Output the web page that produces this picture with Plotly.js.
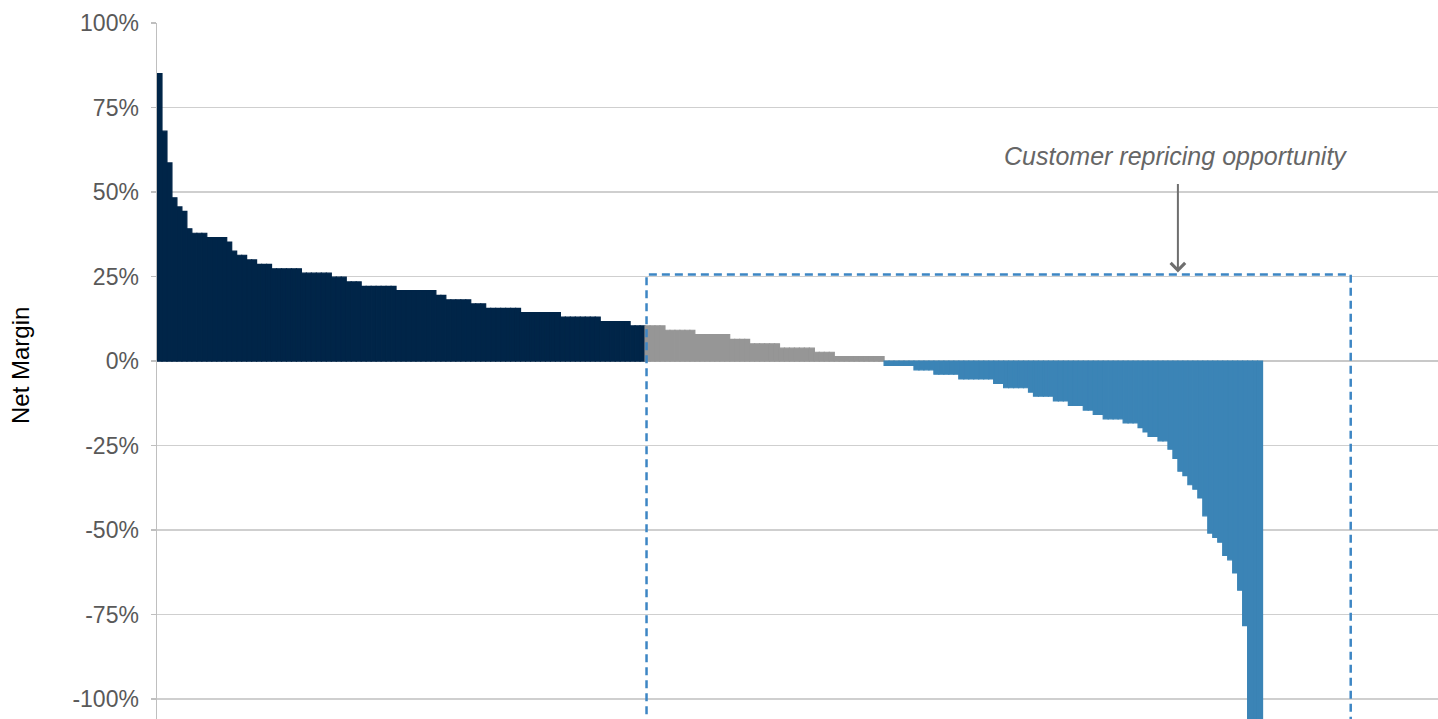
<!DOCTYPE html>
<html>
<head>
<meta charset="utf-8">
<script src="https://cdn.plot.ly/plotly-3.0.1.min.js"></script>
<style>
  html, body { margin: 0; padding: 0; background: #fff; }
  #chart { width: 1438px; height: 719px; }
</style>
</head>
<body>
<div id="chart"></div>
<script>
// Net margin levels (%) and number of customers at each level, sorted high to low
const aboveMargins = [85, 68, 58.6, 48.3, 45.6, 44.3, 39.1, 37.8, 36.5, 35.2, 32.5, 31.3, 29.9, 28.6, 27.3, 26.0, 24.8, 23.4, 22.1, 20.8, 19.4, 18.1, 16.9, 15.6, 14.3, 13.0, 11.7, 10.4];
const aboveCounts  = [1, 1, 1, 1, 1, 1, 1, 3, 4, 1, 1, 2, 2, 3, 6, 6, 3, 3, 7, 8, 2, 5, 3, 7, 8, 8, 6, 3];

const lowMargins = [10.4, 9.1, 7.8, 6.4, 5.1, 3.8, 2.6, 1.3];
const lowCounts  = [4, 6, 7, 4, 6, 7, 4, 10];

const negMargins = [-1.3, -2.6, -3.9, -5.3, -6.6, -7.9, -9.2, -10.4, -11.8, -13.1, -14.5, -15.8, -17.1, -18.3, -19.7, -21.0, -22.3, -23.6,
                    -26.1, -28.8, -32.6, -33.9, -36.6, -37.9, -40.5, -45.8, -50.9, -52.2, -53.6, -57.5, -58.8, -62.7, -67.8, -78.3,
                    -115, -130, -150];
const negCounts  = [6, 4, 5, 7, 2, 5, 1, 4, 3, 3, 2, 2, 4, 3, 1, 1, 2, 2,
                    1, 1, 1, 1, 1, 1, 1, 1, 1, 1, 1, 1, 1, 1, 1, 1,
                    1, 1, 1];

const yTickVals  = [-100, -75, -50, -25, 0, 25, 50, 75, 100];
const yTickTexts = ['-100%', '-75%', '-50%', '-25%', '0%', '25%', '50%', '75%', '100%'];

const annotationText = 'Customer repricing opportunity';
const yTitle = 'Net Margin';

// expand levels into one bar per customer
let cursor = 0;
function expand(margins, counts) {
  const xs = [], ys = [];
  margins.forEach((m, i) => {
    for (let k = 0; k < counts[i]; k++) { xs.push(cursor + 0.5); ys.push(m); cursor++; }
  });
  return {xs, ys};
}
const above = expand(aboveMargins, aboveCounts);
const boxStart = cursor;
const low = expand(lowMargins, lowCounts);
const neg = expand(negMargins, negCounts);

const NAVY = '#002548', GREY = '#969696', BLUE = '#3b84b6';
function barTrace(d, color) {
  return {
    type: 'bar', x: d.xs, y: d.ys, width: 1,
    marker: {color: color, line: {color: color, width: 1.2}},
    hoverinfo: 'skip', showlegend: false
  };
}

const unitPx = 4.98;
const plotW = 1438 - 157;
const xMax = plotW / unitPx;

const layout = {
  width: 1438, height: 719,
  margin: {l: 157, r: 0, t: 23, b: 0},
  paper_bgcolor: '#fff', plot_bgcolor: '#fff',
  font: {family: '"Liberation Sans", Arial, sans-serif', color: '#595959', size: 23},
  bargap: 0,
  showlegend: false,
  xaxis: {
    range: [0, xMax], showgrid: false, zeroline: false, showticklabels: false,
    ticks: '', showline: false, fixedrange: true
  },
  yaxis: {
    range: [-105.9, 100],
    tickvals: yTickVals, ticktext: yTickTexts,
    showgrid: true, gridcolor: '#cfcfcf', gridwidth: 1.5,
    zeroline: true, zerolinecolor: '#c8c8c8', zerolinewidth: 2,
    showline: true, linecolor: '#bfbfbf', linewidth: 1.5,
    ticks: 'outside', ticklen: 5, tickcolor: '#bfbfbf', tickwidth: 1.5,
    ticklabelstandoff: 7,
    tickfont: {size: 23, color: '#595959'},
    fixedrange: true
  },
  shapes: [{
    type: 'rect', xref: 'x', yref: 'y',
    x0: boxStart + 0.3, x1: 239.7, y0: -130, y1: 25.6,
    line: {color: '#3d86c4', width: 2.5, dash: '8px,5px'},
    fillcolor: 'rgba(0,0,0,0)', layer: 'above'
  }],
  annotations: [
    {
      xref: 'x', yref: 'y', x: 205, y: 26.2,
      ax: 0, ay: -90, axref: 'pixel', ayref: 'pixel',
      showarrow: true, arrowhead: 4, arrowsize: 1.4, arrowwidth: 2, arrowcolor: '#6e6e6e',
      text: ''
    },
    {
      xref: 'x', yref: 'y', x: 204.6, y: 60.8,
      text: '<i>' + annotationText + '</i>', showarrow: false,
      font: {size: 25, color: '#666666'}, xanchor: 'center', yanchor: 'middle'
    },
    {
      // y-axis title
      xref: 'paper', yref: 'paper', x: -137 / plotW, y: (719 - 23 - (366 - 23)) / (719 - 23),
      text: yTitle, textangle: -90, showarrow: false,
      font: {size: 24, color: '#000000'}, xanchor: 'center', yanchor: 'middle'
    }
  ]
};

Plotly.newPlot('chart', [barTrace(above, NAVY), barTrace(low, GREY), barTrace(neg, BLUE)], layout,
  {displayModeBar: false, staticPlot: true});
</script>
</body>
</html>
